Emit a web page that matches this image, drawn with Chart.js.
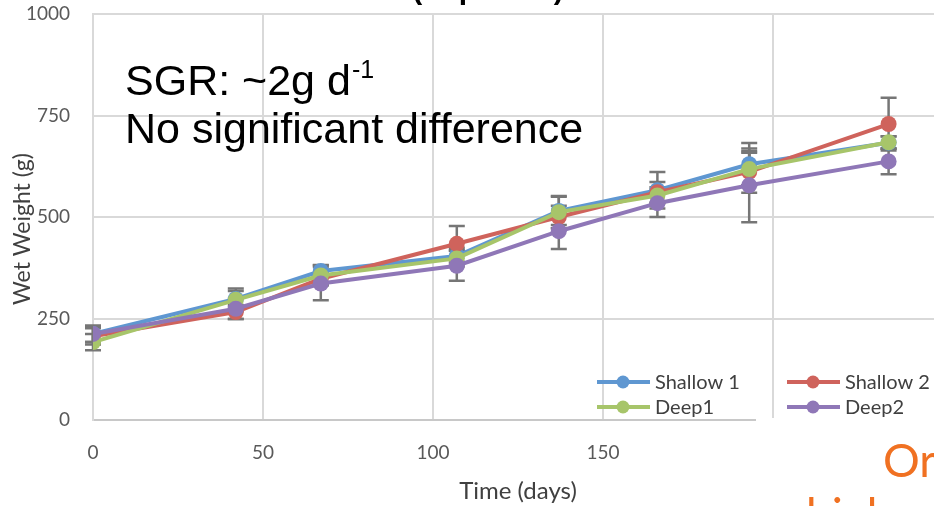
<!DOCTYPE html>
<html>
<head>
<meta charset="utf-8">
<script src="https://cdn.jsdelivr.net/npm/chart.js@4.4.1/dist/chart.umd.min.js"></script>
<style>
  html, body { margin: 0; padding: 0; background: #fff; overflow: hidden; width: 934px; height: 506px; }
  #wrap { position: absolute; left: 0; top: 0; width: 960px; height: 506px; }
</style>
</head>
<body>
<div id="wrap"><canvas id="c" width="960" height="506"></canvas></div>
<script>
// ---- data ----
const days = [0, 42, 67, 107, 137, 166, 193, 234];
const seriesNames = ['Shallow 1', 'Shallow 2', 'Deep1', 'Deep2'];
const shallow1 = [212, 298, 367, 404, 515, 566, 630, 683];
const shallow2 = [206, 266, 348, 434, 500, 561, 611, 729];
const deep1    = [192, 296, 356, 398, 512, 553, 618, 684];
const deep2    = [212, 274, 336, 380, 465, 534, 578, 637];
const shallow1Err = [20, 20, 15, 20, 35, 45, 52, 15];
const shallow2Err = [20, 17, 15, 44, 28, 25, 51, 65];
const deep1Err    = [20, 28, 25, 20, 40, 20, 40, 15];
const deep2Err    = [20, 25, 41, 37, 44, 34, 91, 32];
const yTicks = [0, 250, 500, 750, 1000];
const xTicks = [0, 50, 100, 150, 200, 250];
const titleText = '(Expt. 1\u20132)';
const xTitle = 'Time (days)';
const yTitle = 'Wet Weight (g)';
const noteLine1 = 'SGR: ~2g d';
const noteSup = '-1';
const noteLine2 = 'No significant difference';
const orangeText1 = 'Or';
const orangeText2 = 'higher';

const colors = ['#5f97d1', '#cf635c', '#a7c56a', '#8f77b7'];
const values = [shallow1, shallow2, deep1, deep2];
const errs = [shallow1Err, shallow2Err, deep1Err, deep2Err];

const datasets = seriesNames.map((n, i) => ({
  label: n,
  data: days.map((d, j) => ({ x: d, y: values[i][j] })),
  err: errs[i],
  borderColor: colors[i],
  backgroundColor: colors[i],
  borderWidth: 4,
  pointRadius: 8,
  pointBorderWidth: 0,
  pointHoverRadius: 8,
  tension: 0,
  order: 3 - i
}));

const FONT = 'Lato, "Open Sans", sans-serif';
const TICK_FONT = { family: FONT, size: 19 };

const errorBars = {
  id: 'errorBars',
  beforeDatasetsDraw(chart) {
    const ctx = chart.ctx, xs = chart.scales.x, ys = chart.scales.y;
    ctx.save();
    ctx.strokeStyle = '#767676';
    ctx.lineWidth = 2.5;
    chart.data.datasets.forEach(ds => {
      ds.data.forEach((p, j) => {
        const e = ds.err[j];
        const px = xs.getPixelForValue(p.x);
        const top = ys.getPixelForValue(p.y + e);
        const bot = ys.getPixelForValue(p.y - e);
        ctx.beginPath();
        ctx.moveTo(px, top); ctx.lineTo(px, bot);
        ctx.moveTo(px - 8, top); ctx.lineTo(px + 8, top);
        ctx.moveTo(px - 8, bot); ctx.lineTo(px + 8, bot);
        ctx.stroke();
      });
    });
    ctx.restore();
  }
};

const overlay = {
  id: 'overlay',
  afterDraw(chart) {
    const ctx = chart.ctx;
    ctx.save();
    // y axis title
    ctx.save();
    ctx.translate(23, 229);
    ctx.rotate(-Math.PI / 2);
    ctx.fillStyle = '#404040';
    ctx.font = '23px ' + FONT;
    ctx.textAlign = 'center';
    ctx.textBaseline = 'middle';
    ctx.fillText(yTitle, 0, 0);
    ctx.restore();
    // notes
    ctx.fillStyle = '#000';
    ctx.textBaseline = 'alphabetic';
    ctx.textAlign = 'left';
    ctx.font = '43px "Liberation Sans", Arial, sans-serif';
    ctx.fillText(noteLine1, 125, 95);
    const w1 = ctx.measureText(noteLine1).width;
    ctx.font = '25px "Liberation Sans", Arial, sans-serif';
    ctx.fillText(noteSup, 125 + w1 + 1, 78);
    ctx.font = '43px "Liberation Sans", Arial, sans-serif';
    ctx.fillText(noteLine2, 125, 143);
    // title (cropped at top)
    ctx.font = 'bold 30px "Liberation Sans", Arial, sans-serif';
    ctx.textAlign = 'center';
    ctx.fillText(titleText, 488, -1);
    // legend
    ctx.textAlign = 'left';
    ctx.textBaseline = 'middle';
    ctx.font = '20px ' + FONT;
    const pos = [[597, 382], [787, 382], [597, 407], [787, 407]];
    chart.data.datasets.forEach((ds, i) => {
      const [lx, ly] = pos[i];
      ctx.strokeStyle = ds.borderColor;
      ctx.lineWidth = 4;
      ctx.beginPath(); ctx.moveTo(lx, ly); ctx.lineTo(lx + 53, ly); ctx.stroke();
      ctx.fillStyle = ds.borderColor;
      ctx.beginPath(); ctx.arc(lx + 26, ly, 6.5, 0, Math.PI * 2); ctx.fill();
      ctx.fillStyle = '#404040';
      ctx.fillText(ds.label, lx + 58, ly + 1);
    });
    // overlapping slide text box
    ctx.fillStyle = '#fff';
    ctx.fillRect(756, 418, 300, 100);
    ctx.fillStyle = '#f07122';
    ctx.textBaseline = 'alphabetic';
    ctx.font = '46px ' + FONT;
    ctx.fillText(orangeText1, 883, 477);
    ctx.fillText(orangeText2, 806, 531);
    ctx.restore();
  }
};

new Chart(document.getElementById('c'), {
  type: 'line',
  data: { datasets },
  options: {
    responsive: false,
    animation: false,
    events: [],
    layout: { padding: { left: 0, top: 14, right: 17, bottom: 0 } },
    plugins: { legend: { display: false }, tooltip: { enabled: false }, title: { display: false } },
    scales: {
      x: {
        type: 'linear', min: 0, max: 250,
        afterBuildTicks: s => { s.ticks = xTicks.map(v => ({ value: v })); },
        afterFit: s => { s.height = 86; s.paddingLeft = 0; s.paddingRight = 0; },
        grid: { color: '#d9d9d9', lineWidth: 2, drawTicks: false },
        border: { color: '#c8c8c8', width: 2 },
        ticks: { color: '#595959', font: TICK_FONT, padding: 21, maxRotation: 0, callback: v => String(v) },
        title: { display: true, text: xTitle, color: '#404040', font: { family: FONT, size: 24 }, padding: { top: 1, bottom: 0 } }
      },
      y: {
        min: 0, max: 1000,
        afterBuildTicks: s => { s.ticks = yTicks.map(v => ({ value: v })); },
        afterFit: s => { s.width = 93; s.paddingTop = 0; s.paddingBottom = 0; },
        grid: { color: '#d9d9d9', lineWidth: 2, drawTicks: false },
        border: { color: '#d9d9d9', width: 2 },
        ticks: { color: '#595959', font: TICK_FONT, padding: 23, callback: v => String(v) },
        title: { display: false }
      }
    }
  },
  plugins: [errorBars, overlay]
});
</script>
</body>
</html>
